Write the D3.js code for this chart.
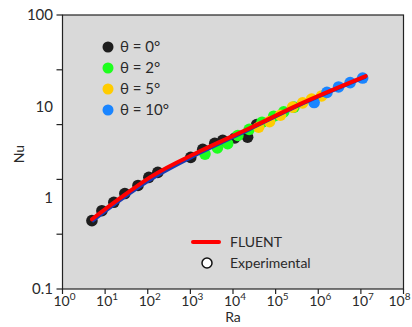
<!DOCTYPE html>
<html>
<head>
<meta charset="utf-8">
<script src="https://cdn.jsdelivr.net/npm/d3@7"></script>
<style>
  body { margin: 0; background: #fff; }
  text { font-family: Lato, "Open Sans", sans-serif; fill: #2a2a2a; }
</style>
</head>
<body>
<div id="chart"></div>
<script>
// data
const seriesNames = ['θ = 0°', 'θ = 2°', 'θ = 5°', 'θ = 10°'];
const seriesColors = ['#1e1e1e', '#1eff1e', '#ffcc00', '#1a85ff'];

const ra0 = [4.9, 8.4, 16, 29, 59, 106, 172, 1020, 1950, 3730, 5740, 11000, 22000, 36000];
const nu0 = [0.56, 0.72, 0.89, 1.11, 1.36, 1.67, 1.89, 2.76, 3.38, 3.93, 4.25, 4.5, 4.6, 6.3];
const ra2 = [2200, 4300, 7500, 13000, 24000, 48000, 90000, 155000, 270000];
const nu2 = [3.0, 3.5, 3.9, 4.8, 5.6, 6.7, 7.8, 8.7, 9.8];
const ra5 = [40000, 72000, 130000, 250000, 430000, 700000, 1200000];
const nu5 = [5.9, 6.8, 8.0, 9.8, 10.9, 12.0, 13.0];
const ra10 = [800000, 1600000, 3000000, 5600000, 11000000];
const nu10 = [11.0, 14.2, 16.3, 18.2, 20.4];

const fluentRa = [4.9, 22, 112, 1660, 24400, 360000, 13000000];
const fluentNu = [0.58, 0.98, 1.67, 3.22, 5.75, 10.5, 21.4];
const corrRa = [4.9, 22, 112, 1660, 24400, 360000, 13000000];
const corrNu = [0.55, 0.93, 1.56, 3.08, 5.6, 10.3, 21.0];

const xTicks = [1, 10, 100, 1e3, 1e4, 1e5, 1e6, 1e7, 1e8];
const yLabels = [100, 10, 1, 0.1];
const yLabelText = ['100', '10', '1', '0.1'];
const yTickExp = [-1, -0.4, 0.2, 0.8, 1.4, 2];

const W = 412, H = 327;
const m = { left: 62.5, right: 8.5, top: 15, bottom: 38 };

const svg = d3.select('#chart').append('svg')
    .attr('width', W)
    .attr('height', H);

const x = d3.scaleLog().domain([1, 1e8]).range([m.left, W - m.right]);
const y = d3.scaleLog().domain([0.1, 100]).range([H - m.bottom, m.top]);

// plot background
svg.append('rect')
    .attr('x', m.left).attr('y', m.top)
    .attr('width', W - m.left - m.right)
    .attr('height', H - m.top - m.bottom)
    .attr('fill', '#d9d9d9')
    .attr('stroke', '#222')
    .attr('stroke-width', 1.2);

// x axis ticks + labels
const xg = svg.append('g');
xTicks.forEach((t, i) => {
    xg.append('line')
        .attr('x1', x(t)).attr('x2', x(t))
        .attr('y1', y(0.1)).attr('y2', y(0.1) + 5)
        .attr('stroke', '#222').attr('stroke-width', 1.2);
    const lab = xg.append('text')
        .attr('x', i === 8 ? x(t) - 4 : x(t) + 2).attr('y', 306)
        .attr('text-anchor', 'middle')
        .attr('font-size', 14);
    lab.append('tspan').text('10');
    lab.append('tspan').attr('dy', -6).attr('font-size', 10).text(i);
});

// y axis ticks (every 0.6 decade) and decade labels
const yg = svg.append('g');
yTickExp.forEach(e => {
    yg.append('line')
        .attr('x1', m.left - 6).attr('x2', m.left)
        .attr('y1', y(Math.pow(10, e))).attr('y2', y(Math.pow(10, e)))
        .attr('stroke', '#222').attr('stroke-width', 1.2);
});
yLabels.forEach((v, i) => {
    yg.append('text')
        .attr('x', 53).attr('y', y(v))
        .attr('dy', '0.36em')
        .attr('text-anchor', 'end')
        .attr('font-size', 15)
        .text(yLabelText[i]);
});

svg.append('text')
    .attr('x', x(1e4)).attr('y', 322)
    .attr('text-anchor', 'middle')
    .attr('font-size', 14)
    .text('Ra');

svg.append('text')
    .attr('transform', `translate(24,${y(3)}) rotate(-90)`)
    .attr('text-anchor', 'middle')
    .attr('font-size', 14)
    .text('Nu');

// points
const series = [[ra0, nu0], [ra2, nu2], [ra5, nu5], [ra10, nu10]];
series.forEach((s, k) => {
    const pts = s[0].map((r, i) => ({ ra: r, nu: s[1][i] }));
    svg.append('g').selectAll('circle')
        .data(pts)
        .join('circle')
        .attr('cx', d => x(d.ra))
        .attr('cy', d => y(d.nu))
        .attr('r', 5.8)
        .attr('fill', seriesColors[k]);
});

const line = d3.line()
    .x(d => x(d.ra))
    .y(d => y(d.nu))
    .curve(d3.curveMonotoneX);

svg.append('path')
    .datum(corrRa.map((r, i) => ({ ra: r, nu: corrNu[i] })))
    .attr('d', line)
    .attr('fill', 'none')
    .attr('stroke', '#1a3cb4')
    .attr('stroke-width', 3.5);

svg.append('path')
    .datum(fluentRa.map((r, i) => ({ ra: r, nu: fluentNu[i] })))
    .attr('d', line)
    .attr('fill', 'none')
    .attr('stroke', '#ff0000')
    .attr('stroke-width', 4)
    .attr('stroke-linecap', 'round');

// theta legend
seriesNames.forEach((n, i) => {
    const ly = 47 + i * 21;
    svg.append('circle')
        .attr('cx', 108).attr('cy', ly).attr('r', 5.5)
        .attr('fill', seriesColors[i]);
    svg.append('text')
        .attr('x', 120).attr('y', ly)
        .attr('dy', '0.36em')
        .attr('font-size', 15)
        .text(n);
});

// model legend
svg.append('line')
    .attr('x1', 193).attr('x2', 219)
    .attr('y1', 242).attr('y2', 242)
    .attr('stroke', '#ff0000')
    .attr('stroke-width', 4)
    .attr('stroke-linecap', 'round');
svg.append('text')
    .attr('x', 230).attr('y', 242).attr('dy', '0.36em')
    .attr('font-size', 14).text('FLUENT');
svg.append('circle')
    .attr('cx', 207).attr('cy', 263).attr('r', 5)
    .attr('fill', '#fff').attr('stroke', '#111').attr('stroke-width', 1.5);
svg.append('text')
    .attr('x', 230).attr('y', 263).attr('dy', '0.36em')
    .attr('font-size', 14).text('Experimental');
</script>
</body>
</html>
